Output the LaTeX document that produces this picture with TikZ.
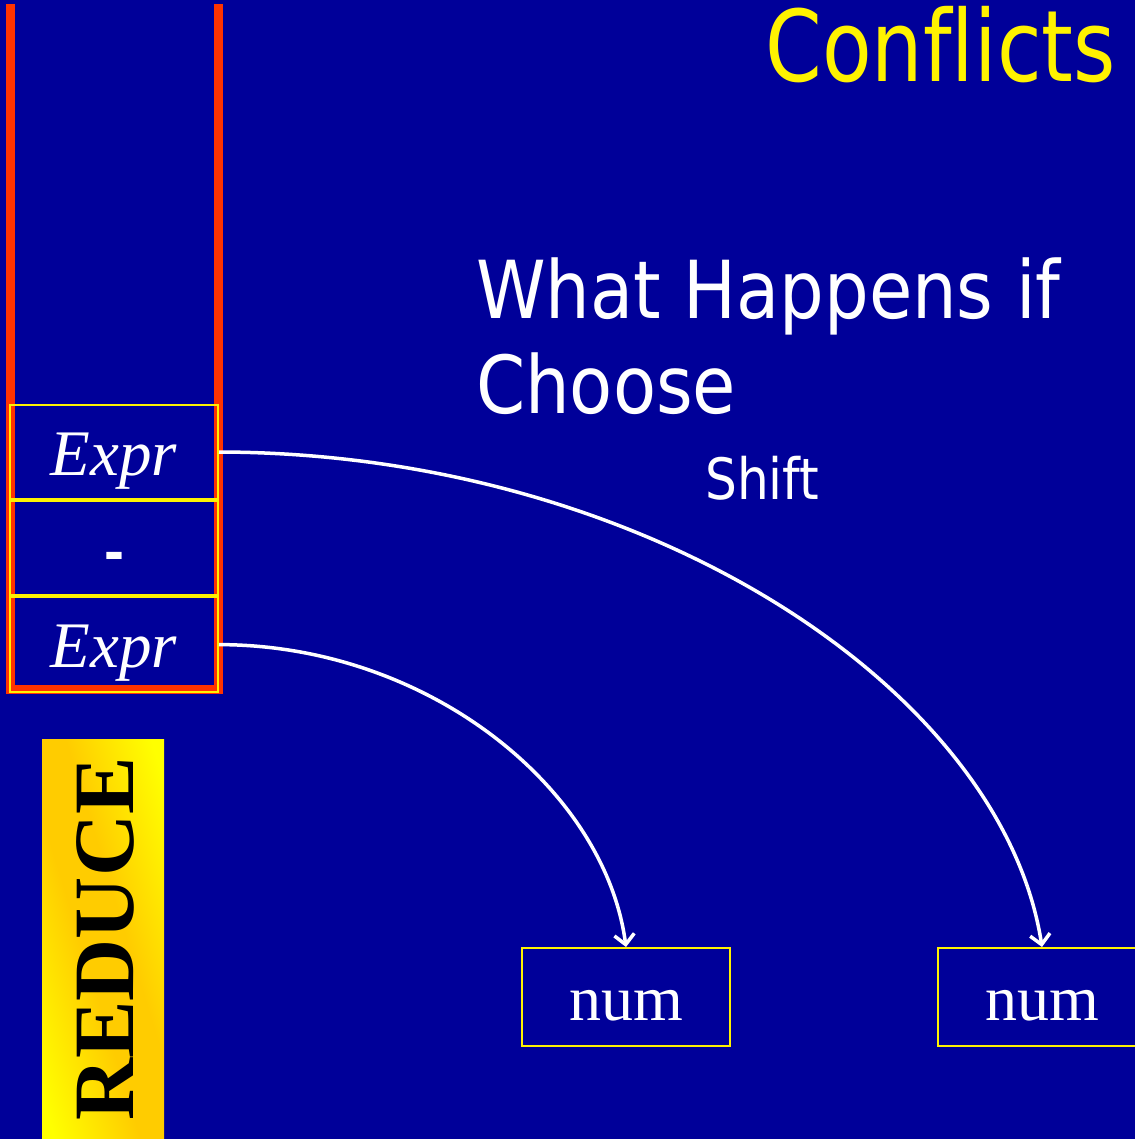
\documentclass[tikz,border=0pt]{standalone}
\usepackage{fontspec}
\setmainfont{Liberation Serif}
\newfontfamily\tahoma[FakeStretch=0.88,Ligatures=NoCommon]{DejaVu Sans}
\newfontfamily\tahomanarrow[FakeStretch=0.82,Ligatures=NoCommon]{DejaVu Sans}
\newfontfamily\dashfont{Liberation Sans}
\usetikzlibrary{arrows.meta}
\definecolor{slideblue}{RGB}{0,0,153}
\definecolor{stackred}{RGB}{255,51,0}
\definecolor{gold}{RGB}{255,204,0}
\pgfdeclarehorizontalshading{reduceshade}{100bp}{color(0bp)=(yellow); color(22bp)=(yellow); color(44bp)=(gold); color(56bp)=(gold); color(78bp)=(yellow); color(100bp)=(yellow)}

\begin{document}
\begin{tikzpicture}[x=1pt,y=-1pt,
  cell/.style={draw=yellow, line width=2pt, minimum width=208pt, minimum height=94.3pt,
    inner sep=0pt, text=white, text height=56pt, text depth=10pt},
  numbox/.style={cell, minimum height=98pt, font=\fontsize{64}{64}\selectfont},
  move/.style={draw=white, line width=3.5pt, -{Straight Barb[length=10pt,width=20pt]}}]

  %background
  \coordinate (BgA) at (0,0);
  \coordinate (BgB) at (1135,1139);
  \fill[slideblue] (BgA) rectangle (BgB);
  \useasboundingbox (BgA) rectangle (BgB);
  \clip (BgA) rectangle (BgB);

  %titles
  \node[anchor=base east, inner sep=0pt, text=yellow, font=\tahomanarrow\fontsize{99}{99}\selectfont] (Title) at (1116,82) {Conflicts};
  \node[anchor=base west, inner sep=0pt, text=white, font=\tahoma\fontsize{80}{80}\selectfont] (AskA) at (476,318) {What Happens if};
  \node[anchor=base west, inner sep=0pt, text=white, font=\tahoma\fontsize{80}{80}\selectfont] (AskB) at (476,413) {Choose};
  \node[anchor=base west, inner sep=0pt, text=white, font=\tahoma\fontsize{57}{57}\selectfont] (Shift) at (705,499) {Shift};

  %stack
  \coordinate (StkA) at (10,4);
  \coordinate (StkB) at (10,689);
  \coordinate (StkC) at (218,689);
  \coordinate (StkD) at (218,4);
  \draw[stackred, line width=9pt] (StkA) -- (StkB) -- (StkC) -- (StkD);

  \node[cell, font=\itshape\fontsize{65}{65}\selectfont] (ExprT) at (114,452) {Expr};
  \node[cell, font=\dashfont\bfseries\fontsize{60}{60}\selectfont] (Minus) at (114,548.3) {-};
  \node[cell, font=\itshape\fontsize{65}{65}\selectfont] (ExprB) at (114,644.6) {Expr};

  %reduce
  \coordinate (RedA) at (42,739);
  \coordinate (RedB) at (164,1139);
  \shade[shading=reduceshade, shading angle=17] (RedA) rectangle (RedB);
  \node[rotate=90, inner sep=0pt, font=\bfseries\fontsize{86}{86}\selectfont] (Reduce) at (105,939) {REDUCE};

  %tokens
  \node[numbox] (NumL) at (626,997) {num};
  \node[numbox] (NumR) at (1042,997) {num};

  \draw[move] (ExprT.east) .. controls (647,453) and (1002,690) .. (NumR.north);
  \draw[move] (ExprB.east) .. controls (430,645) and (605,790) .. (NumL.north);

\end{tikzpicture}
\end{document}
